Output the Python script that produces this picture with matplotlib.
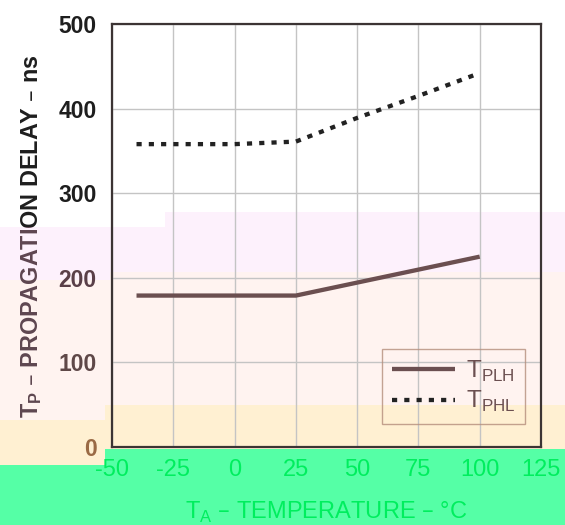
import matplotlib
matplotlib.use("Agg")
import matplotlib.pyplot as plt
from matplotlib.patches import Rectangle

plt.rcParams['font.family'] = ['Liberation Sans', 'DejaVu Sans']
plt.rcParams['axes.unicode_minus'] = False

# propagation delay vs free-air temperature
temp_plh = [-40, 25, 100]
tplh = [179, 179, 225]
temp_phl = [-40, 0, 25, 50, 75, 100]
tphl = [358, 358, 361, 389, 415, 442]

xticks = [-50, -25, 0, 25, 50, 75, 100, 125]
yticks = [0, 100, 200, 300, 400, 500]

W, H = 565, 525
fig = plt.figure(figsize=(W / 100, H / 100), dpi=100)


def px_rect(x0, x1, y0, y1, color):
    # rectangle given in pixel coords measured from the top-left corner
    return Rectangle((x0 / W, 1 - y1 / H), (x1 - x0) / W, (y1 - y0) / H,
                     transform=fig.transFigure, facecolor=color,
                     edgecolor='none', zorder=-5)


# tinted background bands
bands = [
    (165, 565, 212, 272, '#fdf1fc'),
    (0, 165, 227, 280, '#fdf1fc'),
    (110, 565, 272, 405, '#fff3f0'),
    (0, 110, 280, 420, '#fff3f0'),
    (105, 565, 405, 449, '#fff0d2'),
    (0, 105, 420, 465, '#fff0d2'),
    (105, 565, 449, 525, '#55ffa6'),
    (0, 105, 465, 525, '#55ffa6'),
]
for b in bands:
    fig.patches.append(px_rect(*b))

ax = fig.add_axes([112 / W, 1 - 447 / H, (541 - 112) / W, (447 - 24) / H])
ax.set_facecolor('none')

ax.plot(temp_plh, tplh, color='#6b4f50', lw=3.1, solid_capstyle='butt',
        label=r'T$_{\mathregular{PLH}}$')
ax.plot(temp_phl, tphl, color='#222222', lw=3.1,
        linestyle=(0, (1.2, 1.65)), dash_capstyle='butt',
        label=r'T$_{\mathregular{PHL}}$')

ax.set_xlim(-50, 125)
ax.set_ylim(0, 500)
ax.set_xticks(xticks)
ax.set_xticklabels([str(t) for t in xticks], fontsize=17, color='#00ee5e')
ax.set_yticks(yticks)
ax.set_yticklabels([str(t) for t in yticks], fontsize=16.5, fontweight='bold')
ycolors = ['#9a6a45', '#5f4848', '#5a3f48', '#1e1e1e', '#1e1e1e', '#1e1e1e']
for lab, c in zip(ax.get_yticklabels(), ycolors):
    lab.set_color(c)
ax.tick_params(axis='y', length=0, pad=11)
ax.tick_params(axis='x', length=0, pad=9)

ax.grid(True, color='#c4c4c4', lw=1)
ax.set_axisbelow(True)
for s in ax.spines.values():
    s.set_color('#3c3434')
    s.set_linewidth(1.6)

ax.set_xlabel(r'T$_{\mathregular{A}}$ – TEMPERATURE – °C', fontsize=17,
              color='#00ee5e', labelpad=13)

# y label: dark in the white area, brownish inside the tinted bands
ylab = r'T$_{\mathregular{P}}$ – PROPAGATION DELAY – ns'
for color, y0, y1 in [('#1e1e1e', 0, 227), ('#5e4650', 227, 420),
                      ('#6b5040', 420, 525)]:
    t = fig.text(32 / W, 1 - 236 / H, ylab, rotation=90, fontsize=16.8,
                 fontweight='bold', color=color, ha='center', va='center')
    t.set_clip_path(px_rect(0, W, y0, y1, 'none'))

leg = ax.legend(loc='lower right', bbox_to_anchor=(0.963, 0.054),
                borderaxespad=0, fontsize=17.5, frameon=True, fancybox=False,
                handlelength=2.6, borderpad=0.4, labelspacing=0.22,
                handletextpad=0.45)
leg.get_frame().set_edgecolor('#b58e7c')
leg.get_frame().set_linewidth(1)
leg.get_frame().set_facecolor('none')
for t in leg.get_texts():
    t.set_color('#6b4f50')

fig.savefig('out.png', dpi=100)
